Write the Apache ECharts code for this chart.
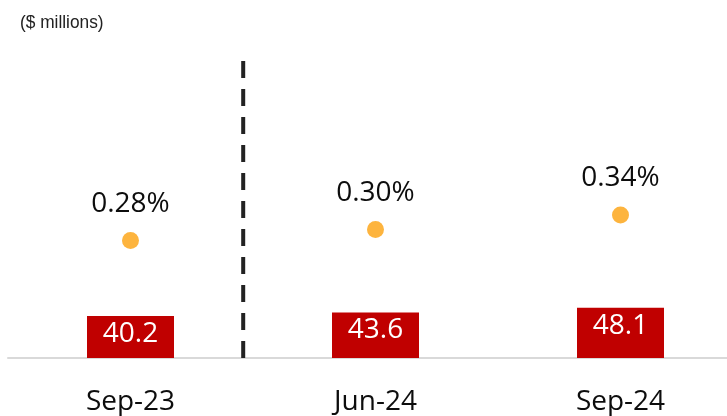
<!DOCTYPE html>
<html><head><meta charset="utf-8">
<script src="https://cdn.jsdelivr.net/npm/echarts@6/dist/echarts.min.js"></script>
<style>html,body{margin:0;padding:0;background:#fff}#c{width:727px;height:416px}</style>
</head><body><div id="c"></div>
<script>
const categories = ['Sep-23', 'Jun-24', 'Sep-24'];
const amounts = [40.2, 43.6, 48.1];          // $ millions (bars)
const ratios = [0.276, 0.302, 0.336];        // % (dots)
const dividerPos = 0.96;                      // divider between Sep-23 and Jun-24 (category units)
const dividerTop = 284;
const unitLabel = '($ millions)';

const chart = echarts.init(document.getElementById('c'), null, {renderer: 'canvas'});
const font = '"Open Sans", "Noto Sans", sans-serif';
chart.setOption({
  animation: false,
  graphic: [{
    type: 'text', left: 20, top: 13, scaleX: 0.91,
    style: {text: unitLabel, font: '19px "Liberation Sans", Arial, sans-serif', fill: '#222'}
  }],
  grid: {left: 8, top: 60, width: 735, height: 298, containLabel: false, outerBoundsMode: 'none'},
  xAxis: [
    {
      type: 'category', data: categories,
      axisLine: {lineStyle: {color: '#d9d9d9', width: 2}},
      axisTick: {show: false},
      axisLabel: {fontFamily: font, fontSize: 28, color: '#0d0d0d', margin: 30}
    },
    {type: 'value', min: 0, max: 3, show: false}
  ],
  yAxis: [
    {type: 'value', min: 0, max: 285, show: false, splitLine: {show: false}},
    {type: 'value', min: 0, max: 0.7, show: false, splitLine: {show: false}}
  ],
  series: [
    {
      type: 'bar', data: amounts, barWidth: 87, xAxisIndex: 0, yAxisIndex: 0,
      itemStyle: {color: '#C00000'},
      label: {show: true, position: 'insideTop', distance: 4, color: '#fff', fontFamily: font, fontSize: 28,
        formatter: p => p.value.toFixed(1)}
    },
    {
      type: 'scatter', data: ratios, xAxisIndex: 0, yAxisIndex: 1, symbolSize: 17,
      itemStyle: {color: '#FDB43E', opacity: 1},
      label: {show: true, position: 'top', distance: 14, color: '#0d0d0d', fontFamily: font, fontSize: 28,
        formatter: p => p.value.toFixed(2) + '%'}
    },
    {
      type: 'line', xAxisIndex: 1, yAxisIndex: 0, symbol: 'none',
      data: [[dividerPos, 0], [dividerPos, dividerTop]],
      lineStyle: {color: '#222', width: 4, type: [17, 11]}
    }
  ]
});
</script></body></html>
